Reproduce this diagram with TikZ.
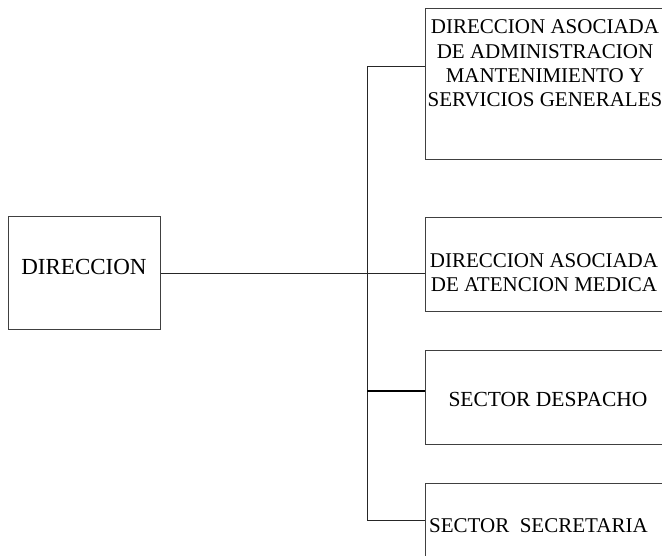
\documentclass[tikz,border=0pt]{standalone}
\usepackage{fontspec}
\setmainfont{Liberation Serif}
\begin{document}
\begin{tikzpicture}[x=1pt,y=-1pt,
  box/.style={draw=black!75, line width=1pt, inner sep=0pt},
  lbl/.style={font=\fontsize{21}{24.3}\selectfont, align=center, inner sep=0pt},
  conn/.style={line width=1pt, black!85}]
\useasboundingbox (0,0) rectangle (662,555);
\clip (0,0) rectangle (662,555);
% boxes
\node[box, minimum width=152pt, minimum height=113pt] (dir) at (84,273.3) {};
\node[lbl, font=\fontsize{23}{26}\selectfont] (tdir) at (84,267) {DIRECCION};
\node[box, minimum width=240pt, minimum height=151pt] (b1) at (545,83.5) {};
\node[lbl] (t1) at (545,63.5) {DIRECCION ASOCIADA\\DE ADMINISTRACION\\MANTENIMIENTO Y\\SERVICIOS GENERALES};
\node[box, minimum width=240pt, minimum height=94pt] (b2) at (545,264) {};
\node[lbl] (t2) at (544,272.5) {DIRECCION ASOCIADA\\DE ATENCION MEDICA};
\node[box, minimum width=240pt, minimum height=94pt] (b3) at (545,397) {};
\node[lbl, font=\fontsize{21.5}{24}\selectfont] (t3) at (548,399) {SECTOR DESPACHO};
\node[box, minimum width=240pt, minimum height=94pt] (b4) at (545,530) {};
\node[lbl, anchor=west] (t4) at (429,526) {SECTOR\ \ SECRETARIA};
% spine
\coordinate (jt) at (367,66);
\coordinate (jd) at (367,390.7);
\coordinate (jb) at (367,520.7);
\draw[conn] (jt) -- (jb);
\draw[conn] (jt) -- (jt -| b1.west);
\draw[conn] (dir.east) -- (dir.east -| b2.west);
\draw[line width=2pt, black] (jd) -- (jd -| b3.west);
\draw[conn] (jb) -- (jb -| b4.west);
\end{tikzpicture}
\end{document}
